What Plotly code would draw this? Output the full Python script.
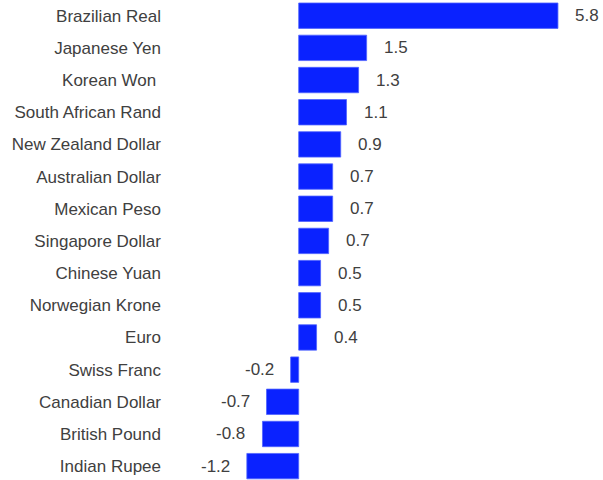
import plotly.graph_objects as go

currencies = ["Brazilian Real", "Japanese Yen", "Korean Won\u00a0", "South African Rand",
              "New Zealand Dollar", "Australian Dollar", "Mexican Peso", "Singapore Dollar",
              "Chinese Yuan", "Norwegian Krone", "Euro", "Swiss Franc", "Canadian Dollar",
              "British Pound", "Indian Rupee"]
values = [5.80, 1.52, 1.34, 1.07, 0.94, 0.76, 0.76, 0.67, 0.49, 0.49, 0.40,
          -0.18, -0.72, -0.81, -1.16]
value_labels = ["5.8", "1.5", "1.3", "1.1", "0.9", "0.7", "0.7", "0.7", "0.5", "0.5",
                "0.4", "-0.2", "-0.7", "-0.8", "-1.2"]

FONT = "Liberation Sans, Arial, sans-serif"
TXT = "#404040"

fig = go.Figure(go.Bar(
    x=values, y=currencies, orientation="h",
    marker=dict(color="#0A22FF", line=dict(color="#4F63FF", width=0.8)),
    hoverinfo="skip",
))

annotations = []
for c, v, t in zip(currencies, values, value_labels):
    annotations.append(dict(
        x=v, y=c, xref="x", yref="y", text=t, showarrow=False,
        xanchor="left" if v >= 0 else "right",
        xshift=15 if v >= 0 else -15,
        font=dict(family=FONT, size=17, color=TXT),
    ))

fig.update_layout(
    width=603, height=480,
    margin=dict(l=170, r=0, t=0, b=0),
    paper_bgcolor="white", plot_bgcolor="white",
    bargap=0.21,
    showlegend=False,
    hovermode=False,
    annotations=annotations,
    xaxis=dict(range=[-2.879, 6.808], visible=False, showgrid=False, zeroline=False),
    yaxis=dict(
        type="category", categoryorder="array", categoryarray=currencies,
        range=[14.43, -0.488], showgrid=False, zeroline=False, showline=False,
        ticks="", ticklabelstandoff=8,
        tickfont=dict(family=FONT, size=17, color=TXT),
    ),
)

fig.write_html("out.html", config={"displayModeBar": False, "staticPlot": True},
               post_script="document.body.style.margin='0';document.body.style.overflow='hidden';")
